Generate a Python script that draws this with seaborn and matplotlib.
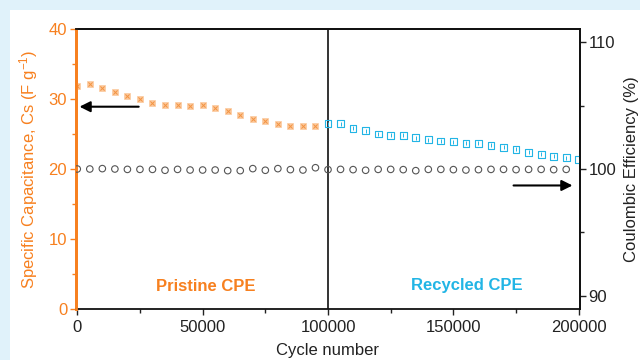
import matplotlib
matplotlib.use("Agg")
import matplotlib.pyplot as plt
from matplotlib.patches import Rectangle
from matplotlib.ticker import MultipleLocator
import seaborn as sns
import pandas as pd

# ---------------- data ----------------
pristine_cycles = [0, 5000, 10000, 15000, 20000, 25000, 30000, 35000, 40000, 45000,
                   50000, 55000, 60000, 65000, 70000, 75000, 80000, 85000, 90000, 95000]
pristine_cs = [31.9, 32.1, 31.6, 31.0, 30.5, 30.0, 29.5, 29.2, 29.1, 29.0,
               29.1, 28.7, 28.3, 27.7, 27.2, 26.8, 26.5, 26.2, 26.1, 26.1]

recycled_cycles = [100000, 105000, 110000, 115000, 120000, 125000, 130000, 135000,
                   140000, 145000, 150000, 155000, 160000, 165000, 170000, 175000,
                   180000, 185000, 190000, 195000, 200000]
recycled_cs = [26.5, 26.5, 25.8, 25.5, 25.0, 24.8, 24.8, 24.5, 24.2, 24.0, 23.9,
               23.7, 23.7, 23.4, 23.1, 22.8, 22.4, 22.1, 21.8, 21.6, 21.3]

ce_cycles = [0, 5000, 10000, 15000, 20000, 25000, 30000, 35000, 40000, 45000,
             50000, 55000, 60000, 65000, 70000, 75000, 80000, 85000, 90000, 95000,
             100000, 105000, 110000, 115000, 120000, 125000, 130000, 135000, 140000,
             145000, 150000, 155000, 160000, 165000, 170000, 175000, 180000, 185000,
             190000, 195000]
ce_values = [100.0, 100.0, 100.03, 100.0, 99.97, 99.97, 99.97, 99.9, 99.97, 99.92,
             99.92, 99.92, 99.87, 99.87, 100.03, 99.9, 100.03, 99.95, 99.92, 100.1,
             99.95, 99.97, 99.95, 99.9, 99.97, 99.97, 99.95, 99.87, 99.97, 99.97,
             99.95, 99.92, 99.95, 99.97, 99.97, 99.95, 99.97, 99.97, 99.95, 99.97]

x_ticks = [0, 50000, 100000, 150000, 200000]
left_ticks = [0, 10, 20, 30, 40]
right_ticks = [90, 100, 110]

ORANGE = "#f7801f"
ORANGE_FILL = "#fbc89c"
ORANGE_X = "#f39443"
CYAN = "#22b5e5"
GREY = "#555555"

# ---------------- style ----------------
sns.set_theme(style="ticks")
plt.rcParams["font.family"] = ["Liberation Sans", "DejaVu Sans"]
plt.rcParams["mathtext.fontset"] = "custom"
plt.rcParams["mathtext.rm"] = "Liberation Sans"
plt.rcParams["mathtext.it"] = "Liberation Sans"
plt.rcParams["mathtext.default"] = "regular"

fig = plt.figure(figsize=(6.4, 3.6), dpi=100, facecolor="#e0f2fa")
fig.patches.append(Rectangle((10 / 640, 0), 630 / 640, 350 / 360,
                             transform=fig.transFigure, facecolor="white",
                             edgecolor="none", zorder=-10))
ax = fig.add_axes([75.5 / 640, 1 - 309 / 360, (580 - 75.5) / 640, 280 / 360])
ax.set_facecolor("white")

df_p = pd.DataFrame({"cycle": pristine_cycles, "cs": pristine_cs})
df_r = pd.DataFrame({"cycle": recycled_cycles, "cs": recycled_cs})
df_ce = pd.DataFrame({"cycle": ce_cycles, "ce": ce_values})

# pristine: filled square with x
sns.scatterplot(data=df_p, x="cycle", y="cs", ax=ax, marker="s", s=24,
                color=ORANGE_FILL, edgecolor=ORANGE_FILL, linewidth=0.5, zorder=3)
sns.scatterplot(data=df_p, x="cycle", y="cs", ax=ax, marker="x", s=9,
                color=ORANGE_X, linewidth=0.7, zorder=4)
# recycled: hollow square with vertical line
sns.scatterplot(data=df_r, x="cycle", y="cs", ax=ax, marker="s", s=24,
                facecolor="none", edgecolor=CYAN, linewidth=0.8, zorder=3)
sns.scatterplot(data=df_r, x="cycle", y="cs", ax=ax, marker="|", s=10,
                color=CYAN, linewidth=0.7, zorder=4)

ax.axvline(100000, color="#333333", lw=1.4, zorder=2)

ax.set_xlim(-700, 200500)
ax.set_ylim(0, 40)
ax.set_xticks(x_ticks)
ax.set_xticklabels([str(v) for v in x_ticks])
ax.set_yticks(left_ticks)
ax.xaxis.set_minor_locator(MultipleLocator(25000))
ax.yaxis.set_minor_locator(MultipleLocator(5))

ax.set_xlabel("Cycle number", fontsize=12, color="#222222", labelpad=6)
ax.set_ylabel("Specific Capacitance, Cs (F g$^{-1}$)", fontsize=12,
              color=ORANGE, labelpad=6)

ax.tick_params(axis="x", which="major", length=4, width=1, colors="#222222",
               labelsize=12, pad=4, direction="out")
ax.tick_params(axis="x", which="minor", length=3, width=1, colors="#222222")
ax.tick_params(axis="y", which="major", length=4, width=1, colors=ORANGE,
               labelsize=12, labelcolor=ORANGE, pad=2)
ax.tick_params(axis="y", which="minor", length=3, width=1, colors=ORANGE)

for side in ["top", "right", "bottom"]:
    ax.spines[side].set_visible(True)
    ax.spines[side].set_color("#111111")
    ax.spines[side].set_linewidth(1.3)
ax.spines["left"].set_color(ORANGE)
ax.spines["left"].set_linewidth(2.0)

ax.text(51400, 3.2, "Pristine CPE", color=ORANGE, fontsize=12,
        fontweight="bold", ha="center", va="center")
ax.text(155400, 3.4, "Recycled CPE", color=CYAN, fontsize=12,
        fontweight="bold", ha="center", va="center")

ax.annotate("", xy=(900, 28.9), xytext=(24500, 28.9),
            arrowprops=dict(arrowstyle="-|>", color="black", lw=1.5,
                            mutation_scale=16, shrinkA=0, shrinkB=0))

# right axis
ax2 = ax.twinx()
sns.scatterplot(data=df_ce, x="cycle", y="ce", ax=ax2, marker="o", s=22,
                facecolor="none", edgecolor=GREY, linewidth=0.8, zorder=3)
ax2.set_ylim(88.95, 111.05)
ax2.set_yticks(right_ticks)
ax2.yaxis.set_minor_locator(MultipleLocator(5))
ax2.set_ylabel("Coulombic Efficiency (%)", fontsize=12, color="#222222", labelpad=6)
ax2.tick_params(axis="y", which="major", length=4, width=1, colors="#222222",
                labelsize=12, pad=2)
ax2.tick_params(axis="y", which="minor", length=3, width=1, colors="#222222")
ax2.spines["right"].set_color("#111111")
ax2.spines["right"].set_linewidth(1.3)
ax2.spines["top"].set_color("#111111")
ax2.spines["top"].set_linewidth(1.3)
ax2.spines["bottom"].set_visible(False)
ax2.spines["left"].set_color(ORANGE)
ax2.spines["left"].set_linewidth(2.0)

ax2.annotate("", xy=(197500, 98.7), xytext=(174000, 98.7),
             arrowprops=dict(arrowstyle="-|>", color="black", lw=1.5,
                             mutation_scale=16, shrinkA=0, shrinkB=0))
ax2.set_xlim(-700, 200500)

fig.savefig("out.png", dpi=100, facecolor=fig.get_facecolor())
